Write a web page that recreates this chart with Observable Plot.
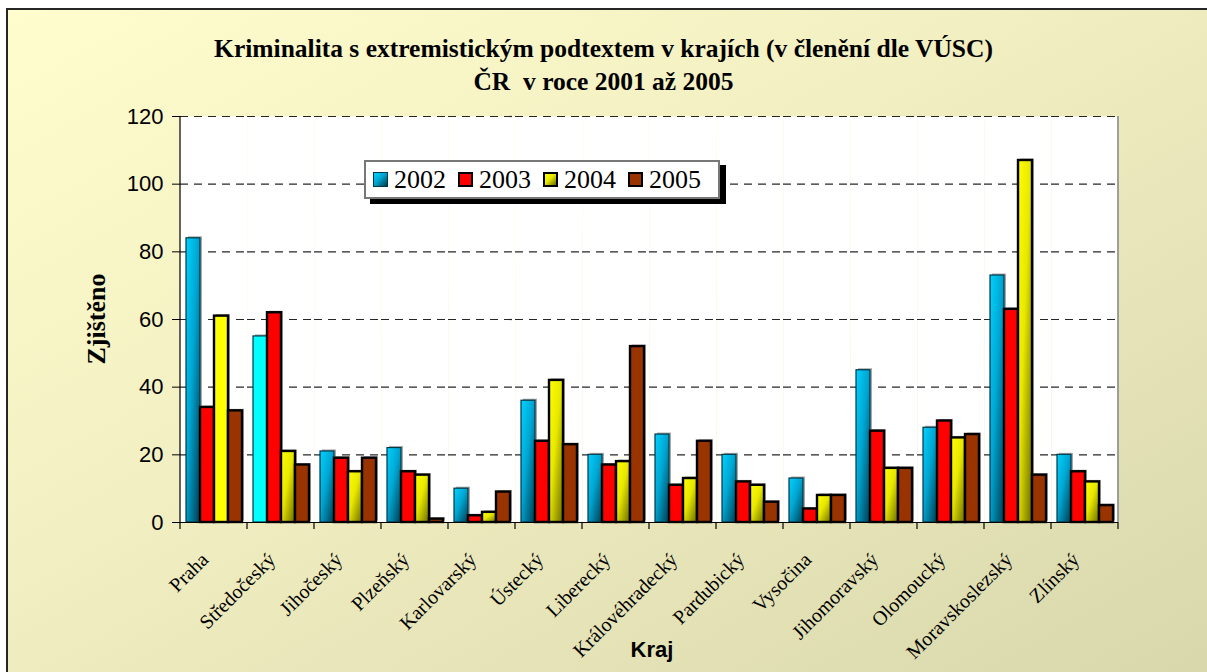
<!DOCTYPE html>
<html>
<head>
<meta charset="utf-8">
<script src="https://cdn.jsdelivr.net/npm/d3@7"></script>
<script src="https://cdn.jsdelivr.net/npm/@observablehq/plot@0.6"></script>
<style>
  html, body { margin: 0; padding: 0; width: 1207px; height: 672px; overflow: hidden; background: #fff; }
  #frame { position: absolute; left: 6px; top: 8px; width: 1240px; height: 700px;
    border: 2px solid #262626;
    background: linear-gradient(to bottom right, #fffdcd 0%, #f2efc2 40%, #d6d6aa 100%); }
  .title { position: absolute; left: 0; width: 1207px; text-align: center;
    font-family: "Liberation Serif", "Times New Roman", serif; font-weight: bold; font-size: 25.5px; color: #000; }
  #chart { position: absolute; left: 0; top: 100px; }
  #ylabel { position: absolute; left: 97px; top: 319px; transform: translate(-50%, -50%) rotate(-90deg);
    font-family: "Liberation Serif", serif; font-weight: bold; font-size: 26px; white-space: nowrap; }
  #xlabel { position: absolute; left: 652px; top: 650px; transform: translate(-50%, -50%);
    font-family: "Liberation Sans", Arial, sans-serif; font-weight: bold; font-size: 22px; }
  #legend { position: absolute; left: 364px; top: 160px; width: 345px; height: 35px;
    background: #fff; border: 2px solid #777; box-shadow: 6px 5px 0 #000;
    display: flex; align-items: center; padding-left: 7px; box-sizing: content-box;
    font-family: "Liberation Serif", "Times New Roman", serif; font-size: 26px; }
  .item { display: flex; align-items: center; margin-right: 12px; font-family: "Liberation Serif", "Times New Roman", serif; }
  .sw { width: 15px; height: 15px; margin-right: 6px; box-sizing: border-box; }
</style>
</head>
<body>
<div id="frame"></div>
<div class="title" style="top:34px">Kriminalita s extremistickým podtextem v krajích (v členění dle VÚSC)</div>
<div class="title" style="top:67px">ČR&nbsp; v roce 2001 až 2005</div>
<div id="chart"></div>
<div id="ylabel">Zjištěno</div>
<div id="xlabel">Kraj</div>
<div id="legend"></div>
<script>
const kraje = ["Praha","Středočeský","Jihočeský","Plzeňský","Karlovarský","Ústecký","Liberecký",
  "Královéhradecký","Pardubický","Vysočina","Jihomoravský","Olomoucký","Moravskoslezský","Zlínský"];
const years = ["2002","2003","2004","2005"];
const v2002 = [84, 55, 21, 22, 10, 36, 20, 26, 20, 13, 45, 28, 73, 20];
const v2003 = [34, 62, 19, 15, 2, 24, 17, 11, 12, 4, 27, 30, 63, 15];
const v2004 = [61, 21, 15, 14, 3, 42, 18, 13, 11, 8, 16, 25, 107, 12];
const v2005 = [33, 17, 19, 1, 9, 23, 52, 24, 6, 8, 16, 26, 14, 5];
const yTicks = [0, 20, 40, 60, 80, 100, 120];

const series = {"2002": v2002, "2003": v2003, "2004": v2004, "2005": v2005};
const fills = {"2002": "url(#gBlue)", "2003": "#ff0000", "2004": "url(#gYellow)", "2005": "#993300"};
// two bars drawn with a flat (highlighted) fill in the original
const flat = {"Středočeský|2002": "#00ffff", "Praha|2004": "#ffff00"};
const data = [];
kraje.forEach((k, i) => years.forEach(y => data.push({kraj: k, year: y, value: series[y][i]})));

const chart = Plot.plot({
  width: 1207,
  height: 572,
  marginLeft: 178,
  marginRight: 87,
  marginTop: 16,
  marginBottom: 150,
  style: {background: "transparent", overflow: "visible", fontFamily: "Liberation Sans, Arial, sans-serif"},
  fx: {domain: kraje, padding: 0, label: null, axis: null},
  x: {domain: years, paddingInner: 0, paddingOuter: 0.375, axis: null},
  y: {domain: [0, 120], label: null},
  color: {type: "identity"},
  marks: [
    Plot.frame({fill: "white", stroke: null}),
    Plot.gridY(yTicks.filter(d => d > 0), {stroke: "#000", strokeOpacity: 0.85, strokeDasharray: "8,6", strokeWidth: 1.2}),
    Plot.barY(data, {fx: "kraj", x: "year", y: "value", fill: "#a8a8a8", dx: 2, dy: -1.5}),
    Plot.barY(data, {
      fx: "kraj", x: "year", y: "value",
      fill: d => flat[d.kraj + "|" + d.year] || fills[d.year],
      stroke: d => d.year === "2002" ? "#003848" : "#000",
      strokeWidth: d => d.year === "2002" ? 1.2 : 2.4
    }),
    Plot.ruleY([0], {stroke: "#000", strokeWidth: 1.2}),
    Plot.axisY(yTicks, {tickSize: 8, tickPadding: 9, fontSize: 22, fontFamily: "Liberation Sans, Arial, sans-serif", label: null, stroke: "#000"}),
    Plot.axisFx({anchor: "bottom", tickRotate: -45, tickSize: 0, tickPadding: 34, dx: -9, fontSize: 20,
      fontFamily: "Liberation Serif, Times New Roman, serif", label: null})
  ]
});

// gradients used by the bar fills
const svg = d3.select(chart);
const defs = svg.insert("defs", ":first-child");
const g1 = defs.append("linearGradient").attr("id", "gBlue").attr("x1", 0).attr("y1", 0).attr("x2", 1).attr("y2", 1);
g1.append("stop").attr("offset", "0%").attr("stop-color", "#00d2ff");
g1.append("stop").attr("offset", "45%").attr("stop-color", "#00a6d2");
g1.append("stop").attr("offset", "100%").attr("stop-color", "#003a4e");
const g2 = defs.append("linearGradient").attr("id", "gYellow").attr("x1", 0).attr("y1", 0).attr("x2", 1).attr("y2", 1);
g2.append("stop").attr("offset", "0%").attr("stop-color", "#ffff00");
g2.append("stop").attr("offset", "45%").attr("stop-color", "#e8e800");
g2.append("stop").attr("offset", "100%").attr("stop-color", "#6a6a00");

// axis lines and category boundary ticks from the library's scales
const fx = chart.scale("fx"), y = chart.scale("y");
const x0 = fx.apply(kraje[0]);
const x1 = fx.apply(kraje[kraje.length - 1]) + fx.bandwidth;
const yb = y.apply(0), yt = y.apply(120);
const deco = svg.append("g");
deco.append("line").attr("x1", x1).attr("x2", x1).attr("y1", yt).attr("y2", yb).attr("stroke", "#808080").attr("stroke-width", 1.5);
deco.append("line").attr("x1", x0).attr("x2", x0).attr("y1", yt).attr("y2", yb).attr("stroke", "#000").attr("stroke-width", 1.2);
const bounds = kraje.map(k => fx.apply(k)).concat([x1]);
deco.selectAll(".bt").data(bounds).join("line")
  .attr("x1", d => d).attr("x2", d => d).attr("y1", yb).attr("y2", yb + 7)
  .attr("stroke", "#000").attr("stroke-width", 1.2);

document.getElementById("chart").appendChild(chart);

// legend
const legend = d3.select("#legend");
years.forEach(yr => {
  const it = legend.append("div").attr("class", "item");
  const sw = it.append("div").attr("class", "sw");
  if (yr === "2002") sw.style("background", "linear-gradient(to bottom right, #00d2ff, #00a6d2 45%, #003a4e)").style("border", "1px solid #003848");
  else if (yr === "2004") sw.style("background", "linear-gradient(to bottom right, #ffff00, #e8e800 45%, #6a6a00)").style("border", "2px solid #000");
  else sw.style("background", fills[yr]).style("border", "2px solid #000");
  it.append("span").text(yr);
});
</script>
</body>
</html>
